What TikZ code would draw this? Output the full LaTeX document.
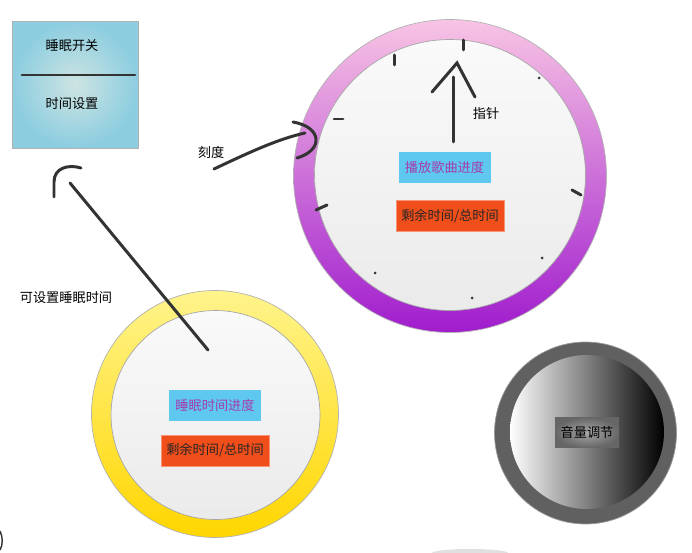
\documentclass[tikz,border=0pt]{standalone}
\usepackage{fontspec}
\setmainfont{Noto Sans CJK SC}
\usetikzlibrary{shapes,positioning,calc,shadings}
\definecolor{inkcolor}{RGB}{51,51,51}
\definecolor{boxblue}{RGB}{94,200,238}
\definecolor{boxorange}{RGB}{240,78,26}
\definecolor{textpurple}{RGB}{165,60,175}
\definecolor{pinktop}{RGB}{248,196,228}
\definecolor{purplebottom}{RGB}{160,28,205}
\definecolor{yellowtop}{RGB}{255,244,140}
\definecolor{yellowbottom}{RGB}{255,214,0}
\definecolor{knobgray}{RGB}{96,96,96}
\definecolor{panelcenter}{RGB}{205,228,226}
\definecolor{paneledge}{RGB}{140,205,224}

\tikzset{
  stroke/.style={line width=1.7pt, inkcolor, line cap=round},
  label/.style={font=\fontsize{7.5}{9}\selectfont, text=black},
  face/.style={circle, inner sep=0pt, draw=black!35, top color=black!2, bottom color=black!8},
  progress/.style={rectangle, fill=boxblue, inner sep=0pt, minimum width=1.84cm, minimum height=0.62cm,
    font=\fontsize{7.5}{9}\selectfont, text=textpurple},
  remain/.style={rectangle, fill=boxorange, draw=boxorange!60!white, inner sep=0pt, minimum width=2.16cm,
    minimum height=0.62cm, font=\fontsize{7.5}{9}\selectfont, text=black!85}
}

\begin{document}
\begin{tikzpicture}[x=0.02cm, y=-0.02cm]
\useasboundingbox (0,0) rectangle (692,553);

% ================= TOP LEFT: SLEEP PANEL =================
\node[
rectangle,
inner sep=0pt,
minimum width=2.52cm,
minimum height=2.54cm,
draw=black!30,
inner color=panelcenter,
outer color=paneledge
] (panel) at (75,84.5) {};

\node[label] (sleepswitch) at (72,46) {睡眠开关};
\node[label] (timeset) at (72,104) {时间设置};
\draw[stroke] (22,75) -- (135,75);

% ================= RIGHT: MUSIC CLOCK =================
\node[
circle,
inner sep=0pt,
minimum size=6.26cm,
draw=black!30,
top color=pinktop,
bottom color=purplebottom
] (playring) at (450,176) {};
\node[face, minimum size=5.42cm] (playface) at (450,175) {};

% ticks
\draw[stroke] (463,40) -- (463,50);
\draw[stroke] (394,55) -- (394,65);
\draw[stroke] (334,119) -- (343,119);
\draw[stroke] (316,210) -- (327,205);
\draw[stroke] (572,190) -- (581,195);
\foreach \p in {(539,78),(542,258),(375,273),(472,298)}
  \fill[inkcolor] \p circle (1.5);

% pointer
\coordinate (handtail) at (453,142);
\coordinate (handtip) at (453,77);
\draw[stroke] (handtail) -- (handtip);
\draw[stroke] (432,92) -- (457,63) -- (475,97);
\node[label] (handlabel) at (486,113) {指针};

\node[progress] (playprogress) at (444.5,167.5) {播放歌曲进度};
\node[remain] (playremain) at (450,216) {剩余时间/总时间};

% scale mark
\node[label] (scalelabel) at (211,152) {刻度};
\coordinate (scaletip) at (305,133);
\draw[stroke] (214,169) .. controls (250,152) and (278,139) .. (scaletip);
\draw[stroke] (293,122) .. controls (322,127) and (324,150) .. (297,158);

% ================= BOTTOM LEFT: SLEEP CLOCK =================
\node[
circle,
inner sep=0pt,
minimum size=4.94cm,
draw=black!30,
top color=yellowtop,
bottom color=yellowbottom
] (sleepring) at (215,414) {};
\node[face, minimum size=4.18cm] (sleepface) at (215.5,415) {};

\node[progress] (sleepprogress) at (215,405.5) {睡眠时间进度};
\node[remain] (sleepremain) at (215,450.5) {剩余时间/总时间};

% set sleep time
\coordinate (setstart) at (208,350);
\coordinate (setend) at (70,183);
\draw[stroke] (setstart) -- (setend);
\draw[stroke] (54,197) -- (54,182) .. controls (54,168) and (68,164) .. (81,168);
\node[label] (setlabel) at (66,298) {可设置睡眠时间};

% ================= BOTTOM RIGHT: VOLUME KNOB =================
\node[
circle,
inner sep=0pt,
minimum size=3.64cm,
draw=black!40,
fill=knobgray
] (volring) at (585.5,433) {};
\node[
circle,
inner sep=0pt,
minimum size=3.08cm,
left color=white,
middle color=black!50,
right color=black
] (volknob) at (587,432) {};
\node[
rectangle,
inner sep=0pt,
minimum width=1.28cm,
minimum height=0.62cm,
inner color=black!35,
outer color=black!60,
font=\fontsize{7.5}{9}\selectfont
] (volume) at (587,432.5) {音量调节};

% cut-off leftovers
\draw[inkcolor, line width=0.8pt] (0,531) .. controls (3,537) and (3,545) .. (0,550);
\fill[black!12] (470,553) ellipse (38 and 4);

\end{tikzpicture}
\end{document}
